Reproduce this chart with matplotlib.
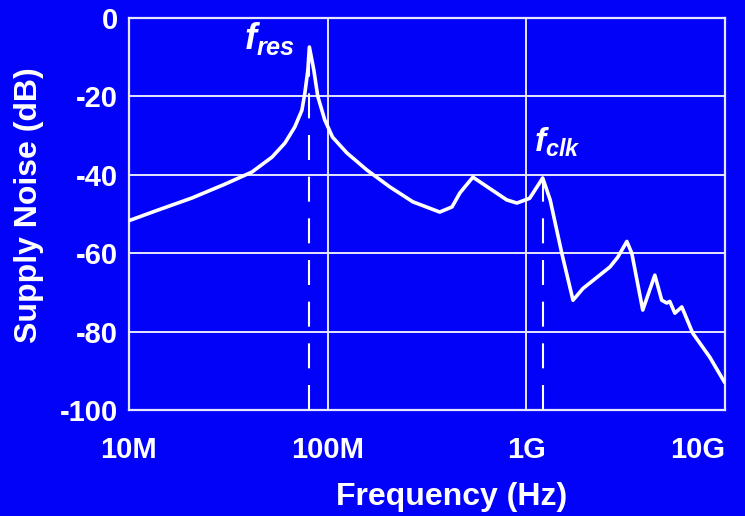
import matplotlib.pyplot as plt
import numpy as np

# supply noise spectrum
freq_hz = [1.00e7, 1.40e7, 2.08e7, 3.04e7, 4.16e7, 5.25e7, 6.10e7, 6.84e7,
           7.43e7, 7.69e7, 7.96e7, 8.10e7, 8.53e7, 8.93e7, 9.68e7, 1.06e8,
           1.25e8, 1.58e8, 2.06e8, 2.69e8, 3.67e8, 4.23e8, 4.64e8, 5.39e8,
           6.34e8, 7.98e8, 8.97e8, 1.04e9, 1.17e9, 1.21e9, 1.32e9,
           1.51e9, 1.72e9, 1.93e9, 2.64e9, 2.89e9, 3.21e9, 3.40e9, 3.86e9,
           4.44e9, 4.81e9, 5.10e9, 5.28e9, 5.60e9, 6.07e9, 6.89e9, 8.39e9,
           9.98e9]
noise_db = [-51.7, -49.0, -45.9, -42.4, -39.3, -35.5, -31.9, -27.8,
            -23.5, -19.1, -13.3, -7.4, -13.3, -20.0, -26.0, -30.4,
            -34.4, -38.8, -43.1, -46.9, -49.5, -48.2, -44.6, -40.6,
            -43.0, -46.4, -47.2, -46.0, -42.0, -40.8, -46.4,
            -60.0, -72.0, -69.0, -63.5, -61.0, -57.0, -60.0, -74.5,
            -65.6, -72.0, -72.7, -72.3, -75.3, -73.7, -80.4, -86.5,
            -93.0]

f_res, res_db = 8.10e7, -7.4
f_clk, clk_db = 1.21e9, -40.8

xticks = [1e7, 1e8, 1e9, 1e10]
xlabels = ['10M', '100M', '1G', '10G']
yticks = [0, -20, -40, -60, -80, -100]
ylabels = ['0', '-20', '-40', '-60', '-80', '-100']

bg = '#0202F8'
fg = 'white'
grid_c = '#E6E6FF'

plt.rcParams['font.family'] = ['Liberation Sans', 'DejaVu Sans']
plt.rcParams['font.weight'] = 'bold'
plt.rcParams['axes.labelweight'] = 'bold'
plt.rcParams['mathtext.fontset'] = 'custom'
plt.rcParams['mathtext.it'] = 'Liberation Sans:bold:italic'
plt.rcParams['mathtext.rm'] = 'Liberation Sans:bold'

fig = plt.figure(figsize=(7.45, 5.16), dpi=100, facecolor=bg)
ax = fig.add_axes([0.173, 0.2054, 0.8, 0.7597], facecolor=bg)

ax.set_xscale('log')
ax.set_xlim(1e7, 1e10)
ax.set_ylim(-100, 0)

ax.grid(True, which='major', color=grid_c, linewidth=1.4)
ax.minorticks_off()
for s in ax.spines.values():
    s.set_color(grid_c)
    s.set_linewidth(1.6)

ax.vlines([f_res, f_clk], -100, [res_db, clk_db], colors=fg,
          linewidth=1.5, linestyles=(0, (12, 8)), zorder=3)
ax.plot(freq_hz, noise_db, color=fg, linewidth=2.6, zorder=4,
        solid_joinstyle='round', solid_capstyle='round')

ax.set_xticks(xticks, xlabels)
ax.set_yticks(yticks, ylabels)
ax.tick_params(axis='x', length=0, pad=19, labelsize=21, colors=fg)
ax.tick_params(axis='y', length=0, pad=8, labelsize=21, colors=fg)
ax.get_xticklabels()[-1].set_ha('right')

ax.set_xlabel('Frequency (Hz)', fontsize=23, color=fg, va='center')
ax.xaxis.set_label_coords(0.542, -0.222)
ax.set_ylabel('Supply Noise (dB)', fontsize=23, color=fg, va='center')
ax.yaxis.set_label_coords(-0.168, 0.523)

ax.annotate(r'$f_{res}$', xy=(f_res, res_db), xytext=(-10, -7),
            textcoords='offset points', ha='right', va='bottom',
            fontsize=26, color=fg, zorder=5)
ax.annotate(r'$f_{clk}$', xy=(f_clk, clk_db), xytext=(-6, 14),
            textcoords='offset points', ha='left', va='bottom',
            fontsize=24, color=fg, zorder=5)

fig.savefig('out.png', dpi=100, facecolor=bg)
